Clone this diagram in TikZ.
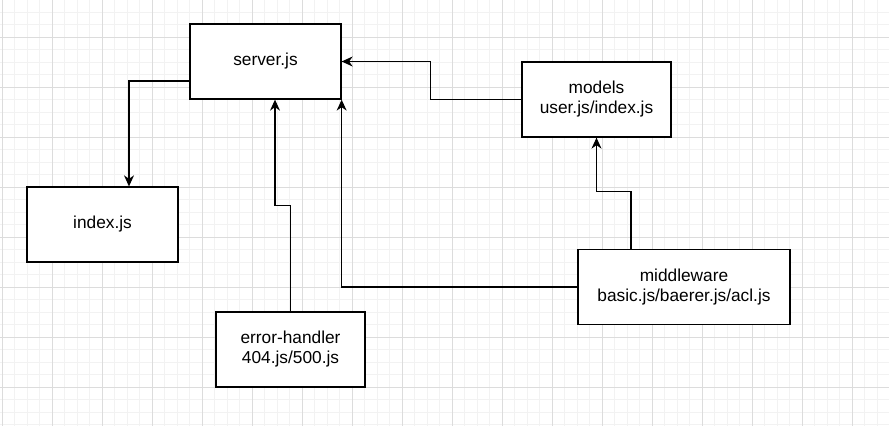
\documentclass[tikz,border=0pt]{standalone}
\usepackage{fontspec}
\setmainfont{Liberation Sans}
\usetikzlibrary{arrows.meta}
\definecolor{minorgrid}{HTML}{F2F2F2}
\definecolor{majorgrid}{HTML}{DCDCDC}
\begin{document}
\begin{tikzpicture}[x=1pt,y=-1pt,
  box/.style={draw=black, line width=1.3pt, fill=white, align=center, inner sep=0pt,
    minimum height=75pt, font=\fontsize{17.3}{20}\selectfont},
  conn/.style={line width=1.2pt, -{Stealth[length=11pt,width=10pt,inset=3.5pt]}},
  minorline/.style={draw=minorgrid, line width=1pt},
  majorline/.style={draw=majorgrid, line width=1pt}]
\useasboundingbox (0,0) rectangle (889,426);
\fill[white] (0,0) rectangle (889,426);
% grid
\foreach \i in {0,...,71} {\draw[minorline] ({2+12.5*\i},0) -- ({2+12.5*\i},426);}
\foreach \i in {0,...,35} {\draw[minorline] (0,{-0.5+12.5*\i}) -- (889,{-0.5+12.5*\i});}
\foreach \i in {0,...,17} {\draw[majorline] ({2+50*\i},0) -- ({2+50*\i},426);}
\foreach \i in {0,...,7} {\draw[majorline] (0,{37+50*\i}) -- (889,{37+50*\i});}
% nodes
\node[box, minimum width=151pt] (server) at (265.5,61.5) {server.js};
\node[box, minimum width=151pt] (index) at (102.5,224.5) {index.js};
\node[box, minimum width=149pt] (models) at (596.5,99.5) {models\\user.js/index.js};
\node[box, minimum width=149pt] (error) at (290.5,349.5) {error-handler\\404.js/500.js};
\node[box, minimum width=212pt] (middleware) at (684,287) {middleware\\basic.js/baerer.js/acl.js};
% connectors
\draw[conn] ([yshift=-19.5pt]server.west) -| ([xshift=26.5pt]index.north);
\draw[conn] (models.west) -- ++(-91,0) |- (server.east);
\draw[conn] (error.north) -- ++(0,-106) -| ([xshift=9.5pt]server.south);
\draw[conn] (middleware.west) -| (server.south east);
\draw[conn] ([xshift=-53pt]middleware.north) -- ++(0,-57) -| (models.south);
\end{tikzpicture}
\end{document}
